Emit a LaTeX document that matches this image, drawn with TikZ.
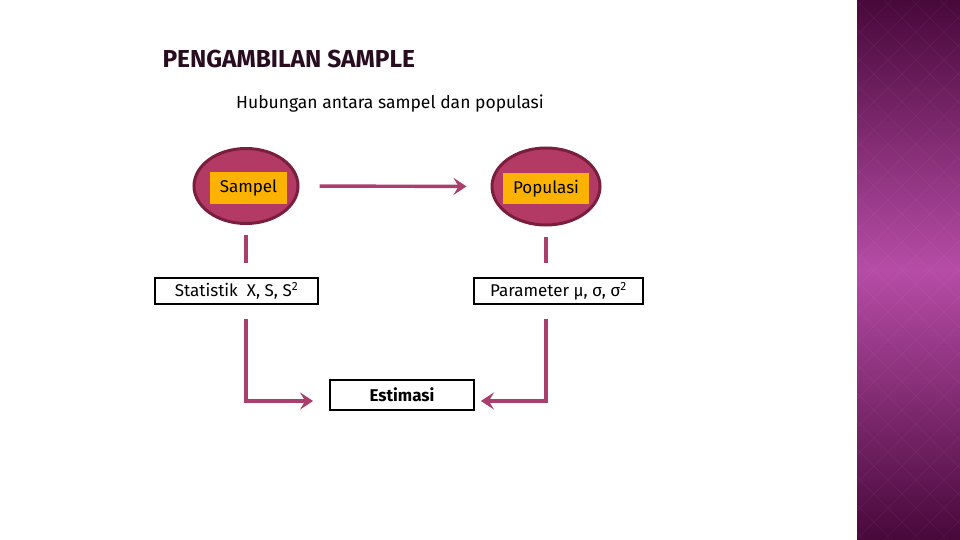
\documentclass[tikz,border=0pt]{standalone}
\usepackage{fontspec}
\setmainfont{Fira Sans}
\usetikzlibrary{arrows.meta,shapes.geometric}
\definecolor{berry}{RGB}{178,58,100}
\definecolor{berryline}{RGB}{122,30,62}
\definecolor{linkcol}{RGB}{170,62,108}
\definecolor{amber}{RGB}{252,178,0}
\definecolor{plumdark}{RGB}{72,8,58}
\definecolor{plumlight}{RGB}{182,76,166}
\definecolor{titlecol}{RGB}{40,12,32}

\begin{document}
\begin{tikzpicture}[x=1pt, y=-1pt,
  blob/.style={ellipse, draw=berryline, line width=3pt, fill=berry, inner sep=0pt},
  tag/.style={rectangle, fill=amber, inner sep=0pt, font=\fontsize{17}{19}\selectfont},
  infobox/.style={rectangle, draw=black, line width=1.8pt, fill=white, inner sep=0pt, font=\fontsize{17}{19}\selectfont},
  link/.style={draw=linkcol, line width=3.4pt},
  arr/.style={link, -{Stealth[length=13pt, width=17pt, inset=5pt]}}]
  \useasboundingbox (0,0) rectangle (960,540);
  \fill[white] (0,0) rectangle (960,540);
  % side panel
  \shade[top color=plumdark, bottom color=plumdark, middle color=plumlight] (857,0) rectangle (960,540);
  \begin{scope}
    \clip (857,0) rectangle (960,540);
    \foreach \k in {-600,-572,...,1100}
      \draw[white, opacity=0.035, line width=1pt] (\k,0) -- ++(540,540) (\k,540) -- ++(540,-540);
  \end{scope}
  % texts
  \draw (159,59) node[anchor=west, text=titlecol, font=\fontsize{24.5}{27}\selectfont\bfseries] (title) {PENGAMBILAN SAMPLE};
  \draw (390,104) node[font=\fontsize{17.5}{20}\selectfont] (subtitle) {Hubungan antara sampel dan populasi};
  % nodes
  \draw (246,186) node[blob, minimum width=104pt, minimum height=75pt] (sampel) {};
  \draw (546,186.5) node[blob, minimum width=108pt, minimum height=77pt] (populasi) {};
  \draw (248.5,188) node[tag, minimum width=77pt, minimum height=32pt] (sampeltag) {Sampel};
  \draw (546,188.5) node[tag, minimum width=86pt, minimum height=31pt] (populasitag) {Populasi};
  \draw (236.5,291) node[infobox, minimum width=163pt, minimum height=26pt] (stat) {Statistik\ \ X, S, S\textsuperscript{2}};
  \draw (558.5,291) node[infobox, minimum width=169pt, minimum height=26pt] (param) {Parameter μ, σ, σ\textsuperscript{2}};
  \draw (402,395) node[infobox, minimum width=144pt, minimum height=30pt, font=\fontsize{17}{19}\selectfont\bfseries] (est) {Estimasi};
  % connectors
  \draw[arr, shorten <=20pt, shorten >=24pt] (sampel.east) -- (populasi.west);
  \draw[link, shorten <=10pt, shorten >=14pt] (sampel.south) -- (sampel.south |- stat.north);
  \draw[link, shorten <=10pt, shorten >=14pt] (populasi.south) -- (populasi.south |- param.north);
  \draw[arr, shorten >=16pt] ([yshift=-14pt]sampel.south |- stat.south) |- ([yshift=-6pt]est.west);
  \draw[arr, shorten >=6pt] ([yshift=-14pt]populasi.south |- param.south) |- ([yshift=-6pt]est.east);
\end{tikzpicture}
\end{document}
